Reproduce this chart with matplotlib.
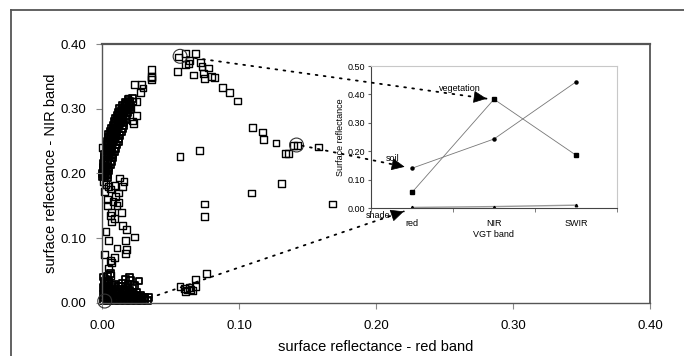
import matplotlib
matplotlib.use('Agg')
import numpy as np
import matplotlib.pyplot as plt
from matplotlib.patches import ConnectionPatch
from matplotlib.lines import Line2D
from matplotlib.ticker import FormatStrFormatter

plt.rcParams['font.family'] = ['Liberation Sans', 'DejaVu Sans']

# --- pixel data (red, NIR) ---
# vegetation end of the cloud
veg_x = [0.056, 0.061, 0.068, 0.055, 0.061, 0.064, 0.067, 0.073, 0.074, 0.078,
         0.075, 0.080, 0.082, 0.088, 0.093, 0.099, 0.072, 0.063]
veg_y = [0.380, 0.385, 0.385, 0.358, 0.368, 0.375, 0.352, 0.365, 0.355, 0.363,
         0.347, 0.350, 0.348, 0.333, 0.325, 0.312, 0.372, 0.370]

# soil diagonal
soil_x = [0.110, 0.117, 0.118, 0.127, 0.134, 0.136, 0.140, 0.143, 0.158]
soil_y = [0.271, 0.264, 0.253, 0.247, 0.231, 0.231, 0.243, 0.243, 0.241]

# isolated points
iso_x = [0.057, 0.071, 0.075, 0.075, 0.109, 0.131, 0.168, 0.076, 0.068,
         0.057, 0.060, 0.062, 0.064, 0.066, 0.068, 0.061, 0.065]
iso_y = [0.226, 0.235, 0.153, 0.134, 0.170, 0.185, 0.153, 0.045, 0.037,
         0.025, 0.022, 0.020, 0.024, 0.019, 0.026, 0.018, 0.021]

# upper-left branch (edge of the dense curve)
edge_x = [0.036, 0.036, 0.036, 0.036, 0.024, 0.029, 0.030, 0.028, 0.019, 0.022,
          0.025, 0.016, 0.025, 0.023, 0.022, 0.018, 0.021, 0.014]
edge_y = [0.361, 0.350, 0.345, 0.348, 0.338, 0.337, 0.332, 0.325, 0.316, 0.312,
          0.311, 0.298, 0.290, 0.277, 0.281, 0.305, 0.300, 0.290]

# dense curved band along the NIR axis
band_x = [0.000, 0.002, 0.004, 0.000, 0.002, 0.004, 0.001, 0.003, 0.005, 0.001,
          0.003, 0.005, 0.001, 0.004, 0.006, 0.002, 0.004, 0.007, 0.002, 0.005,
          0.008, 0.002, 0.005, 0.008, 0.003, 0.006, 0.009, 0.003, 0.006, 0.010,
          0.004, 0.007, 0.011, 0.004, 0.008, 0.012, 0.005, 0.009, 0.012, 0.005,
          0.009, 0.013, 0.006, 0.010, 0.014, 0.007, 0.011, 0.015, 0.008, 0.012,
          0.016, 0.009, 0.013, 0.016, 0.010, 0.014, 0.017, 0.011, 0.015, 0.018,
          0.012, 0.016, 0.019, 0.013, 0.017, 0.020, 0.015, 0.018, 0.021, 0.017,
          0.020, 0.019, 0.022]
band_y = [0.195, 0.196, 0.194, 0.200, 0.201, 0.199, 0.205, 0.206, 0.204, 0.210,
          0.211, 0.209, 0.215, 0.216, 0.214, 0.220, 0.221, 0.219, 0.225, 0.226,
          0.224, 0.230, 0.231, 0.229, 0.235, 0.236, 0.234, 0.240, 0.241, 0.239,
          0.245, 0.246, 0.244, 0.250, 0.251, 0.249, 0.255, 0.256, 0.254, 0.260,
          0.261, 0.259, 0.265, 0.266, 0.264, 0.270, 0.271, 0.269, 0.275, 0.276,
          0.274, 0.280, 0.281, 0.279, 0.285, 0.286, 0.284, 0.290, 0.291, 0.289,
          0.295, 0.296, 0.294, 0.300, 0.301, 0.299, 0.305, 0.306, 0.304, 0.310,
          0.311, 0.315, 0.316]
# in-between pixels of the same band
band2_x = [0.001, 0.003, 0.002, 0.004, 0.002, 0.004, 0.003, 0.006, 0.004, 0.007,
           0.004, 0.007, 0.005, 0.008, 0.006, 0.009, 0.006, 0.010, 0.007, 0.011,
           0.008, 0.011, 0.009, 0.012, 0.010, 0.013, 0.011, 0.014, 0.012, 0.015,
           0.013, 0.016, 0.014, 0.017, 0.016, 0.019, 0.018, 0.020]
band2_y = [0.198, 0.197, 0.208, 0.207, 0.218, 0.217, 0.228, 0.227, 0.238, 0.237,
           0.243, 0.242, 0.248, 0.247, 0.253, 0.252, 0.258, 0.257, 0.263, 0.262,
           0.268, 0.267, 0.273, 0.272, 0.278, 0.277, 0.283, 0.282, 0.288, 0.287,
           0.293, 0.292, 0.298, 0.297, 0.303, 0.302, 0.308, 0.307]

# column between the shade cluster and the band
col_x = [0.000, 0.001, 0.003, 0.006, 0.009, 0.013, 0.012, 0.008, 0.007, 0.007,
         0.014, 0.015, 0.018, 0.017, 0.024, 0.005, 0.011, 0.018, 0.017, 0.006,
         0.007, 0.005, 0.006, 0.004, 0.010, 0.002, 0.015, 0.011, 0.004, 0.016,
         0.009, 0.003, 0.002, 0.009, 0.005, 0.012, 0.006]
col_y = [0.240, 0.188, 0.183, 0.176, 0.182, 0.193, 0.170, 0.157, 0.140, 0.125,
         0.140, 0.120, 0.113, 0.097, 0.102, 0.096, 0.085, 0.082, 0.077, 0.066,
         0.062, 0.054, 0.043, 0.160, 0.165, 0.172, 0.180, 0.150, 0.150, 0.188,
         0.130, 0.110, 0.075, 0.070, 0.180, 0.155, 0.135]

# shade cluster near the origin
shade_x = [0.001, 0.005, 0.009, 0.013, 0.017, 0.021, 0.025, 0.029, 0.033,
           0.002, 0.006, 0.010, 0.014, 0.018, 0.022, 0.026, 0.030, 0.034,
           0.001, 0.004, 0.008, 0.012, 0.016, 0.020, 0.024, 0.028,
           0.002, 0.005, 0.009, 0.013, 0.017, 0.021, 0.025,
           0.001, 0.004, 0.007, 0.014, 0.018, 0.022,
           0.002, 0.005, 0.015, 0.019, 0.024,
           0.003, 0.017, 0.021, 0.027, 0.001, 0.004, 0.020]
shade_y = [0.003, 0.003, 0.003, 0.003, 0.003, 0.003, 0.003, 0.003, 0.004,
           0.008, 0.008, 0.008, 0.008, 0.008, 0.008, 0.007, 0.008, 0.008,
           0.013, 0.013, 0.013, 0.013, 0.012, 0.013, 0.012, 0.011,
           0.018, 0.018, 0.018, 0.018, 0.019, 0.017, 0.016,
           0.024, 0.024, 0.024, 0.025, 0.023, 0.022,
           0.030, 0.030, 0.031, 0.029, 0.027,
           0.036, 0.036, 0.035, 0.034, 0.040, 0.041, 0.039]
shade2_x = [0.003, 0.007, 0.011, 0.015, 0.019, 0.023, 0.027, 0.031, 0.003, 0.007,
            0.011, 0.015, 0.019, 0.023, 0.027, 0.031, 0.003, 0.007, 0.011, 0.015,
            0.019, 0.023, 0.002, 0.006, 0.010, 0.016, 0.020, 0.003, 0.008, 0.002,
            0.005, 0.009, 0.012, 0.006]
shade2_y = [0.005, 0.005, 0.005, 0.005, 0.005, 0.006, 0.005, 0.006, 0.010, 0.010,
            0.010, 0.010, 0.011, 0.010, 0.010, 0.009, 0.015, 0.016, 0.015, 0.016,
            0.015, 0.014, 0.021, 0.021, 0.021, 0.021, 0.020, 0.027, 0.027, 0.033,
            0.033, 0.028, 0.026, 0.046]

# endmember pixels (circled)
circ_x = [0.057, 0.142, 0.002]
circ_y = [0.381, 0.244, 0.003]

# --- inset: endmember spectra ---
bands = ['red', 'NIR', 'SWIR']
spec_veg = [0.055, 0.383, 0.186]
spec_soil = [0.140, 0.243, 0.444]
spec_shade = [0.002, 0.005, 0.010]

fig = plt.figure(figsize=(6.84, 3.56), dpi=100)

# outer frame (cut by the image edge)
fig.add_artist(Line2D([0.0161, 1.0], [0.9719, 0.9719], color='#555555', lw=1.3))
fig.add_artist(Line2D([0.0161, 0.0161], [0.0, 0.9719], color='#555555', lw=1.3))

ax = fig.add_axes([0.1491, 0.1489, 0.8012, 0.7275])
sq = dict(marker='s', s=24, facecolors='none', edgecolors='black')
for xs, ys in [(veg_x, veg_y), (soil_x, soil_y), (iso_x, iso_y), (edge_x, edge_y),
               (col_x, col_y)]:
    ax.scatter(xs, ys, clip_on=False, linewidths=1.0, **sq)
# the dense parts print almost solid black
for xs, ys in [(band_x, band_y), (band2_x, band2_y),
               (shade_x, shade_y), (shade2_x, shade2_y)]:
    ax.scatter(xs, ys, clip_on=False, linewidths=1.3, **sq)
ax.scatter(circ_x, circ_y, marker='o', s=100, facecolors='none',
           edgecolors='#333333', linewidths=0.8, clip_on=False, zorder=3)

ax.set_xlim(0, 0.4)
ax.set_ylim(0, 0.4)
ax.set_xticks([0, 0.1, 0.2, 0.3, 0.4])
ax.set_yticks([0, 0.1, 0.2, 0.3, 0.4])
ax.xaxis.set_major_formatter(FormatStrFormatter('%.2f'))
ax.yaxis.set_major_formatter(FormatStrFormatter('%.2f'))
ax.tick_params(axis='x', length=4, pad=8, labelsize=9.5, color='#888888')
ax.tick_params(axis='y', length=4, pad=7, labelsize=9.5, color='#888888')
for s in ax.spines.values():
    s.set_color('#555555')
    s.set_linewidth(1.0)
ax.spines['top'].set_linewidth(1.6)
ax.spines['right'].set_linewidth(1.3)
ax.set_xlabel('surface reflectance - red band', fontsize=10.5, labelpad=6)
ax.set_ylabel('surface reflectance - NIR band', fontsize=10.5, labelpad=2)

ins = fig.add_axes([0.5424, 0.4157, 0.3596, 0.3989])
x = range(len(bands))
ins.plot(x, spec_veg, color='#777777', lw=0.6, marker='s', ms=2.2,
         mfc='black', mec='black')
ins.plot(x, spec_soil, color='#777777', lw=0.6, marker='o', ms=2.2,
         mfc='black', mec='black')
ins.plot(x, spec_shade, color='#999999', lw=1.0, marker='^', ms=1.8,
         mfc='black', mec='black')
ins.set_xlim(-0.5, 2.5)
ins.set_ylim(0, 0.5)
ins.set_xticks(list(x))
ins.set_xticklabels(bands)
ins.set_xticks([-0.5, 0.5, 1.5, 2.5], minor=True)
ins.set_yticks([0, 0.1, 0.2, 0.3, 0.4, 0.5])
ins.yaxis.set_major_formatter(FormatStrFormatter('%.2f'))
ins.tick_params(axis='x', which='major', length=0, pad=8, labelsize=6.5)
ins.tick_params(axis='x', which='minor', length=3, color='#666666')
ins.tick_params(axis='y', length=2, pad=2, labelsize=6.5, color='#666666')
ins.set_xlabel('VGT band', fontsize=6.5, labelpad=1)
ins.set_ylabel('Surface reflectance', fontsize=6.5, labelpad=2)
ins.spines['left'].set_color('#444444')
ins.spines['bottom'].set_color('#444444')
ins.spines['top'].set_color('#c8c8c8')
ins.spines['right'].set_color('#c8c8c8')
for s in ins.spines.values():
    s.set_linewidth(0.8)

# dotted links from circled pixels to the inset spectra
links = [((0.062, 0.380), (0.91, 0.385), (0.58, 0.42), 'vegetation'),
         ((0.146, 0.243), (-0.09, 0.145), (-0.24, 0.175), 'soil'),
         ((0.035, 0.008), (-0.10, -0.012), (-0.41, -0.025), 'shade')]
for start, tip, lab_pos, lab in links:
    con = ConnectionPatch(xyA=start, coordsA=ax.transData, xyB=tip, coordsB=ins.transData,
                          color='black', lw=1.3, linestyle=(0, (1, 3.5)),
                          shrinkA=0, shrinkB=0, zorder=5)
    fig.add_artist(con)
    # solid head: short stub along the same direction (pixel space)
    p0 = ax.transData.transform(start)
    p1 = ins.transData.transform(tip)
    d = (p1 - p0) / np.hypot(*(p1 - p0))
    back = p1 - 8 * d
    head = ConnectionPatch(xyA=tuple(back), coordsA='figure pixels', xyB=tip,
                           coordsB=ins.transData, color='black', lw=0.5,
                           arrowstyle='-|>,head_length=0.6,head_width=0.28',
                           mutation_scale=14, fc='black',
                           shrinkA=0, shrinkB=0, zorder=6)
    fig.add_artist(head)
    ins.text(lab_pos[0], lab_pos[1], lab, fontsize=6.5, ha='center', va='center',
             clip_on=False)

fig.savefig('out.png', dpi=100)
